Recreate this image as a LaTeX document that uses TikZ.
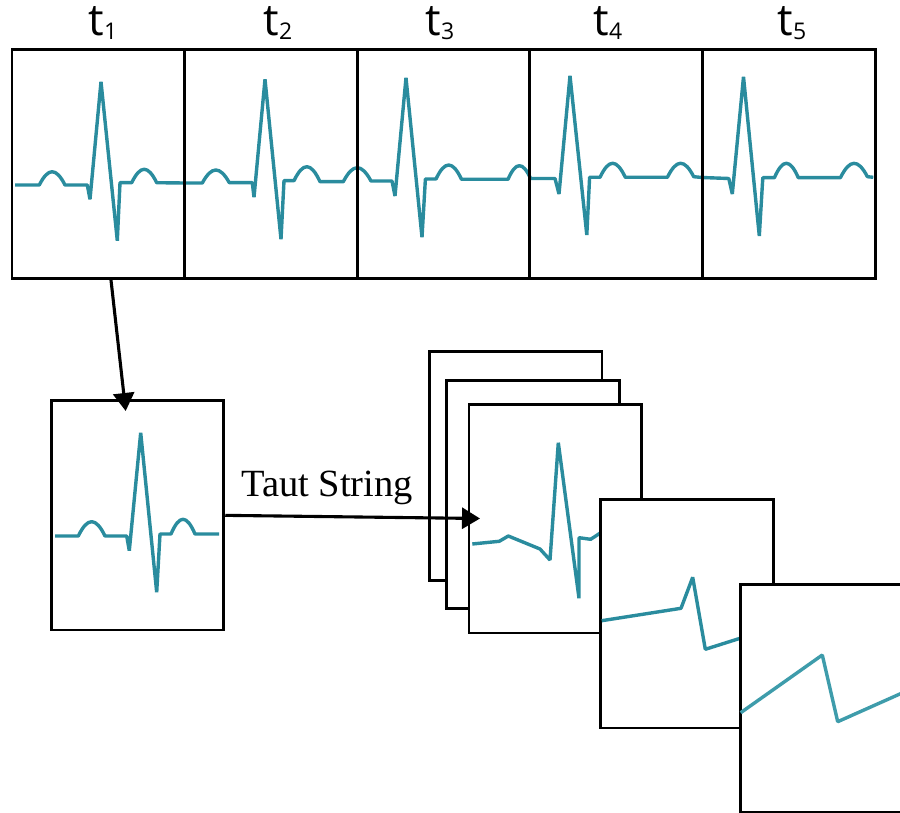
\documentclass[tikz,border=0pt]{standalone}
\usepackage{fontspec}
\setmainfont{Liberation Serif}
\newfontfamily\labelfont{Open Sans}
\usetikzlibrary{arrows.meta}
\definecolor{ecg}{HTML}{2A8C9E}
\definecolor{ecglight}{HTML}{3E9CAB}
\begin{document}
\begin{tikzpicture}[x=1pt,y=-1pt,
  frame/.style={draw=black,line width=2.8pt,inner sep=0pt,minimum width=172.7pt,minimum height=228.5pt},
  wframe/.style={frame,fill=white},
  ecgline/.style={draw=ecg,line width=3.4pt,line join=bevel},
  ecglt/.style={draw=ecglight,line width=3.4pt,line join=bevel},
  conn/.style={draw=black,line width=3.1pt,-{Triangle[length=18pt,width=21pt]}},
  tlabel/.style={font=\labelfont\fontsize{44}{48}\selectfont,anchor=base,inner sep=0pt},
  caption/.style={font=\fontsize{38.5}{42}\selectfont,anchor=base,inner sep=0pt}]
\useasboundingbox (0,0) rectangle (900,813);
\newcommand{\tsub}[1]{t\raisebox{-4pt}{\fontsize{23}{23}\selectfont #1}}
% top strip waveform
\draw[ecgline] (15,185) -- (39.3,185) .. controls (48.3,167.3) and (56.0,167.3) .. (65,185) -- (87.3,185) -- (90,199.3) -- (101,81.7) -- (117.3,240.7) -- (120,182.7) -- (131.7,182.7) .. controls (140.5,164.8) and (147.9,164.8) .. (156.7,182.7) -- (184,183) -- (202.3,183) .. controls (211.8,165.7) and (219.8,165.7) .. (229.3,182.7) -- (252.3,182.7) -- (254,197.3) -- (265,79.3) -- (281,239.3) -- (284,180.7) -- (294,180.7) .. controls (303.1,161.9) and (310.9,161.9) .. (320,181.7) -- (343.3,181.7) .. controls (353,163.15) and (361.3,163.15) .. (371,181) -- (392,181) -- (395,196) -- (406,77.7) -- (422,237.3) -- (425.4,179) -- (436,179) .. controls (444.9,160.3) and (452.6,160.3) .. (461.5,179.3) -- (508,179.3) .. controls (515.9,161.3) and (522.7,161.3) .. (530.6,178.5) -- (555,178.5) -- (559,194) -- (570,75.7) -- (586.8,235) -- (589.6,177.3) -- (600,177.3) .. controls (608.9,158.6) and (616.4,158.6) .. (625.3,177.3) -- (667.4,177.3) .. controls (676.6,158.7) and (684.5,158.7) .. (693.7,176.7) -- (702,177.5) -- (728.8,178.5) -- (732.3,194) -- (743.5,76.7) -- (759.3,236) -- (762.8,177.7) -- (774.4,177.7) .. controls (782.8,158.5) and (789.9,158.5) .. (798.3,177.7) -- (840.4,177.7) .. controls (849.9,158.7) and (858,158.7) .. (867.4,176.7) -- (873.3,177.3);
% top strip frames
\node[frame] (w1) at (98.35,164) {};
\node[frame] (w2) at (270.95,164) {};
\node[frame] (w3) at (443.55,164) {};
\node[frame] (w4) at (616.15,164) {};
\node[frame] (w5) at (788.75,164) {};
% labels
\node[tlabel] (l1) at (103,36) {\tsub{1}};
\node[tlabel] (l2) at (278,36) {\tsub{2}};
\node[tlabel] (l3) at (440,36) {\tsub{3}};
\node[tlabel] (l4) at (608,36) {\tsub{4}};
\node[tlabel] (l5) at (792,36) {\tsub{5}};
% selected window
\node[wframe, minimum height=229.3pt] (sel) at (137.5,515.35) {};
\draw[ecgline] (55,536) -- (78.3,536) .. controls (87.6,516.9) and (95.7,516.9) .. (105,536) -- (126.7,536) -- (129.3,550.7) -- (140.7,432.7) -- (156.7,592.3) -- (160,534) -- (171,534) .. controls (179.4,514.4) and (186.6,514.4) .. (195,534) -- (219,534);
% stacked results
\node[wframe] (sa) at (515.7,465.9) {};
\node[wframe] (sb) at (533,494.5) {};
\node[wframe] (sc) at (555.35,518.8) {};
\draw[ecgline] (472.3,544) -- (499.3,541.3) -- (508.3,536) -- (540,549) -- (550,560) -- (558.3,442.7) -- (579,598.3) -- (579,537.7) -- (590.7,539.3) -- (601,532.5);
\node[wframe] (sd) at (687,613.8) {};
\draw[ecgline] (601.7,620.7) -- (681,608.3) -- (692.7,577.3) -- (705.3,649.3) -- (741,638);
\node[wframe] (se) at (827.05,698.55) {};
\draw[ecglt] (740.7,712.7) -- (822.3,655) -- (837.7,721.7) -- (905,691.7);
% connectors
\coordinate (selin) at (125.7,411);
\coordinate (stackin) at (480,518.5);
\draw[conn] ([xshift=12.6pt]w1.south) -- (selin);
\draw[conn] (sel.east) -- (stackin);
\node[caption] (ts) at (327,496) {Taut String};
\end{tikzpicture}
\end{document}
